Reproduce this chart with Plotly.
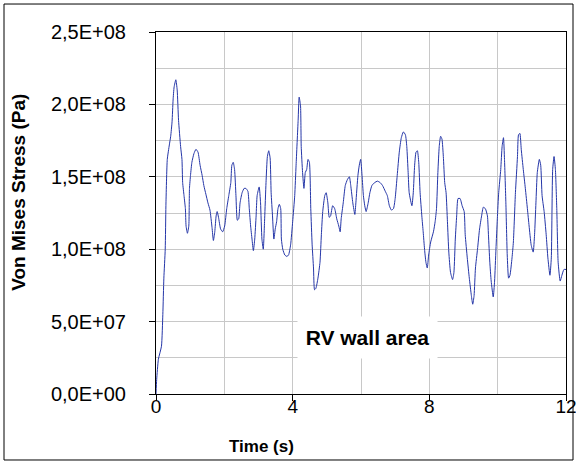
import plotly.graph_objects as go

# Time (s)
time_s = [
    0.00, 0.02, 0.07, 0.16, 0.20, 0.23, 0.27, 0.29, 0.33, 0.39, 0.43, 0.47, 0.50, 0.53, 0.58,
    0.62, 0.66, 0.72, 0.76, 0.78, 0.82, 0.86, 0.88, 0.92, 0.96, 0.98, 1.01, 1.05, 1.11, 1.17,
    1.23, 1.29, 1.35, 1.40, 1.46, 1.52, 1.58, 1.64, 1.68, 1.72, 1.76, 1.79, 1.83, 1.89, 1.95,
    2.01, 2.07, 2.13, 2.19, 2.22, 2.26, 2.30, 2.34, 2.38, 2.42, 2.46, 2.52, 2.58, 2.63, 2.69,
    2.73, 2.77, 2.81, 2.85, 2.89, 2.93, 2.96, 3.02, 3.06, 3.10, 3.14, 3.18, 3.22, 3.26, 3.30,
    3.34, 3.37, 3.41, 3.45, 3.49, 3.53, 3.57, 3.61, 3.65, 3.67, 3.71, 3.77, 3.83, 3.88, 3.94,
    4.00, 4.06, 4.10, 4.16, 4.19, 4.23, 4.25, 4.29, 4.33, 4.37, 4.41, 4.45, 4.49, 4.53, 4.57,
    4.61, 4.64, 4.68, 4.74, 4.80, 4.84, 4.88, 4.94, 4.98, 5.03, 5.07, 5.11, 5.17, 5.23, 5.29,
    5.35, 5.39, 5.42, 5.48, 5.54, 5.60, 5.66, 5.70, 5.76, 5.82, 5.85, 5.91, 5.95, 5.99, 6.03,
    6.07, 6.11, 6.15, 6.21, 6.26, 6.32, 6.40, 6.48, 6.56, 6.63, 6.71, 6.77, 6.83, 6.89, 6.95,
    7.00, 7.06, 7.12, 7.18, 7.24, 7.30, 7.34, 7.38, 7.41, 7.49, 7.53, 7.57, 7.61, 7.65, 7.69,
    7.73, 7.78, 7.82, 7.86, 7.90, 7.94, 7.98, 8.04, 8.12, 8.17, 8.21, 8.25, 8.29, 8.33, 8.37,
    8.41, 8.45, 8.49, 8.53, 8.57, 8.62, 8.68, 8.72, 8.76, 8.80, 8.84, 8.90, 8.96, 9.02, 9.05,
    9.11, 9.17, 9.23, 9.27, 9.31, 9.35, 9.41, 9.47, 9.53, 9.58, 9.64, 9.70, 9.73, 9.77, 9.81,
    9.87, 9.91, 9.95, 9.99, 10.03, 10.09, 10.13, 10.17, 10.20, 10.24, 10.28, 10.32, 10.36, 10.42, 10.46,
    10.52, 10.58, 10.61, 10.65, 10.69, 10.75, 10.81, 10.87, 10.92, 10.98, 11.04, 11.08, 11.12, 11.16, 11.22,
    11.26, 11.30, 11.36, 11.42, 11.47, 11.53, 11.57, 11.61, 11.65, 11.69, 11.73, 11.77, 11.83, 11.88, 11.94,
    12.00,
]

# Von Mises stress, in units of 1e8 Pa
stress_1e8 = [
    0.00, 0.10, 0.24, 0.33, 0.55, 0.80, 1.00, 1.30, 1.62, 1.72, 1.78, 1.88, 2.03, 2.12, 2.17,
    2.10, 1.89, 1.71, 1.62, 1.46, 1.37, 1.28, 1.16, 1.11, 1.16, 1.42, 1.51, 1.60, 1.66, 1.69,
    1.67, 1.58, 1.51, 1.44, 1.38, 1.32, 1.27, 1.15, 1.06, 1.12, 1.23, 1.26, 1.22, 1.14, 1.12,
    1.16, 1.28, 1.37, 1.46, 1.58, 1.60, 1.55, 1.37, 1.20, 1.21, 1.32, 1.39, 1.42, 1.42, 1.40,
    1.28, 1.16, 1.07, 0.99, 1.07, 1.23, 1.37, 1.43, 1.32, 1.07, 1.00, 1.21, 1.46, 1.64, 1.68,
    1.63, 1.39, 1.23, 1.07, 1.14, 1.19, 1.28, 1.31, 1.28, 1.07, 1.00, 0.96, 0.95, 0.96, 1.03,
    1.19, 1.37, 1.58, 1.89, 2.05, 1.99, 1.71, 1.53, 1.42, 1.53, 1.55, 1.62, 1.60, 1.28, 1.03,
    0.87, 0.72, 0.73, 0.80, 0.91, 1.10, 1.26, 1.37, 1.39, 1.32, 1.22, 1.23, 1.30, 1.28, 1.21,
    1.16, 1.12, 1.21, 1.32, 1.44, 1.48, 1.50, 1.44, 1.32, 1.24, 1.32, 1.51, 1.58, 1.62, 1.51,
    1.37, 1.30, 1.26, 1.32, 1.39, 1.44, 1.46, 1.47, 1.46, 1.44, 1.40, 1.37, 1.30, 1.27, 1.28,
    1.35, 1.51, 1.67, 1.77, 1.81, 1.79, 1.71, 1.53, 1.39, 1.30, 1.39, 1.58, 1.67, 1.68, 1.60,
    1.39, 1.23, 1.12, 1.00, 0.91, 0.87, 0.96, 1.05, 1.12, 1.19, 1.28, 1.53, 1.71, 1.78, 1.76,
    1.64, 1.46, 1.39, 1.19, 0.98, 0.84, 0.79, 0.84, 1.07, 1.23, 1.35, 1.35, 1.30, 1.26, 1.10,
    0.94, 0.80, 0.68, 0.62, 0.68, 0.87, 1.00, 1.14, 1.23, 1.29, 1.28, 1.23, 1.10, 0.91, 0.78,
    0.67, 0.78, 1.00, 1.21, 1.39, 1.55, 1.71, 1.77, 1.62, 1.32, 0.96, 0.80, 0.82, 0.94, 1.05,
    1.39, 1.64, 1.79, 1.80, 1.69, 1.55, 1.42, 1.28, 1.16, 1.03, 0.98, 1.10, 1.32, 1.53, 1.62,
    1.58, 1.37, 1.26, 1.10, 0.94, 0.82, 0.94, 1.55, 1.64, 1.55, 1.28, 0.91, 0.78, 0.82, 0.86,
    0.86,
]

stress_pa = [v * 1e8 for v in stress_1e8]

x_tick_vals = [0, 4, 8, 12]
x_tick_text = ["0", "4", "8", "12"]
y_tick_vals = [0, 5e7, 1e8, 1.5e8, 2e8, 2.5e8]
y_tick_text = ["0,0E+00", "5,0E+07", "1,0E+08", "1,5E+08", "2,0E+08", "2,5E+08"]
y_minor_vals = [2.5e7, 7.5e7, 1.25e8, 1.75e8, 2.25e8]
x_minor_vals = [2, 6, 10]

FONT = "Liberation Sans, Arial, sans-serif"
GRID = "#c8c8c8"

fig = go.Figure()
fig.add_trace(go.Scatter(
    x=time_s, y=stress_pa, mode="lines",
    line=dict(color="#2536a8", width=1, shape="spline", smoothing=0.5),
    showlegend=False, hoverinfo="skip",
))

fig.update_layout(
    width=576, height=464,
    margin=dict(l=156, r=10, t=32, b=70, autoexpand=False),
    paper_bgcolor="white", plot_bgcolor="white",
    font=dict(family=FONT, color="black", size=20),
    xaxis=dict(
        range=[0, 12], tickmode="array", tickvals=x_tick_vals, ticktext=x_tick_text,
        ticks="outside", ticklen=6, tickcolor="black", tickwidth=1,
        showline=True, linecolor="black", linewidth=1, mirror=True,
        showgrid=True, gridcolor=GRID, gridwidth=1, zeroline=False,
        minor=dict(tickvals=x_minor_vals, showgrid=True, gridcolor=GRID, gridwidth=1, ticks=""),
        tickfont=dict(size=19), ticklabelstandoff=-11, ticklabeloverflow="allow",
        automargin=False,
    ),
    yaxis=dict(
        range=[0, 2.5e8], tickmode="array", tickvals=y_tick_vals, ticktext=y_tick_text,
        ticks="outside", ticklen=6, tickcolor="black", tickwidth=1,
        showline=True, linecolor="black", linewidth=1, mirror=True,
        showgrid=True, gridcolor=GRID, gridwidth=1, zeroline=False,
        minor=dict(tickvals=y_minor_vals, showgrid=True, gridcolor=GRID, gridwidth=1, ticks=""),
        tickfont=dict(size=20), ticklabelstandoff=19, ticklabeloverflow="allow",
        automargin=False,
    ),
    shapes=[dict(
        type="rect", xref="paper", yref="paper",
        x0=-0.3707, x1=1.0171, y0=-0.1823, y1=1.0773,
        line=dict(color="black", width=1), fillcolor="rgba(0,0,0,0)", layer="above",
    )],
    annotations=[
        dict(text="<b>RV wall area</b>", x=6.19, y=0.39e8, xref="x", yref="y",
             showarrow=False, font=dict(size=21, family=FONT, color="black"),
             bgcolor="white", width=135, height=37, borderpad=2),
        dict(text="<b>Von Mises Stress (Pa)</b>", x=-0.337, y=0.558, xref="paper", yref="paper",
             showarrow=False, textangle=-90, font=dict(size=19, family=FONT, color="black"),
             xanchor="center", yanchor="middle"),
        dict(text="<b>Time (s)</b>", x=0.2585, y=-0.146, xref="paper", yref="paper",
             showarrow=False, font=dict(size=17, family=FONT, color="black"),
             xanchor="center", yanchor="middle"),
    ],
)

fig.write_html("out.html", config={"displayModeBar": False},
               post_script="document.body.style.margin='0px';")
